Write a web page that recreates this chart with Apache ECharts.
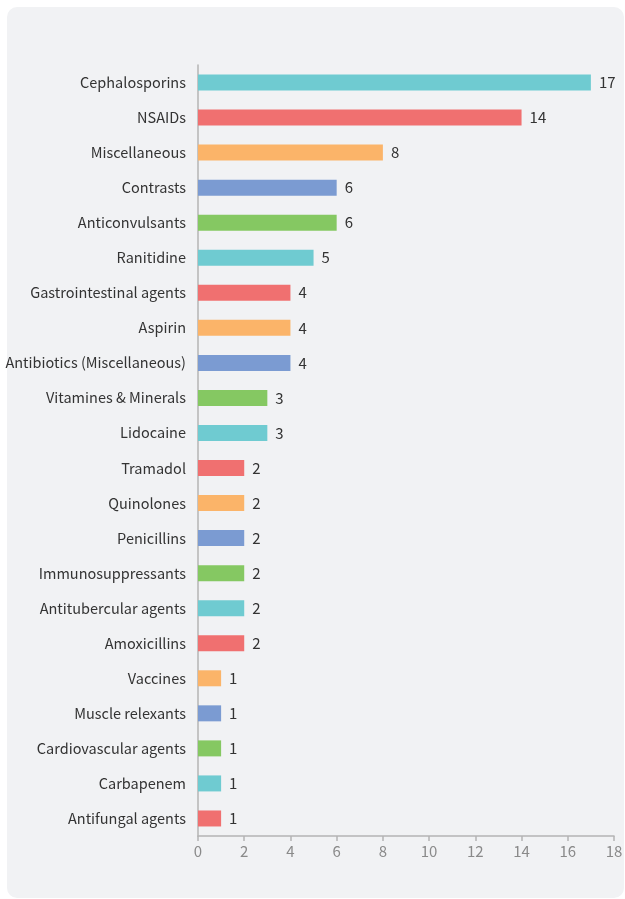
<!DOCTYPE html>
<html><head><meta charset="utf-8">
<script src="https://cdn.jsdelivr.net/npm/echarts@6/dist/echarts.min.js"></script>
<style>html,body{margin:0;padding:0;background:#fff}#c{width:625px;height:899px}</style>
</head><body><div id="c"></div>
<script>
const categories = ["Cephalosporins","NSAIDs","Miscellaneous","Contrasts","Anticonvulsants","Ranitidine","Gastrointestinal agents","Aspirin","Antibiotics (Miscellaneous)","Vitamines & Minerals","Lidocaine","Tramadol","Quinolones","Penicillins","Immunosuppressants","Antitubercular agents","Amoxicillins","Vaccines","Muscle relexants","Cardiovascular agents","Carbapenem","Antifungal agents"];
const values = [17,14,8,6,6,5,4,4,4,3,3,2,2,2,2,2,2,1,1,1,1,1];
const palette = ["#6fcbd1","#f07070","#fbb469","#7b9bd2","#85c862"];
const xTicks = [0,2,4,6,8,10,12,14,16,18];
const font = '"Noto Sans CJK KR", "Noto Sans", sans-serif';
const chart = echarts.init(document.getElementById('c'));
chart.setOption({
  animation:false,
  graphic:[{type:'rect',z:-10,silent:true,shape:{x:7,y:7,width:617,height:891,r:10},style:{fill:'#f1f2f4'}}],
  grid:{left:198,right:11,top:65,bottom:63,containLabel:false,outerBoundsMode:'none'},
  xAxis:{type:'value',min:0,max:18,interval:2,
    axisLine:{show:true,lineStyle:{color:'#b4b4b4',width:1.5}},
    axisTick:{show:true,length:5,lineStyle:{color:'#b4b4b4',width:1.5}},
    splitLine:{show:false},
    axisLabel:{color:'#8a8a8a',fontSize:15,fontFamily:font,margin:8,formatter:v=>xTicks.includes(v)?String(v):''}},
  yAxis:{type:'category',data:categories,inverse:true,
    axisLine:{show:true,lineStyle:{color:'#b4b4b4',width:1.5}},
    axisTick:{show:false},
    axisLabel:{color:'#333',fontSize:14.5,fontFamily:font,margin:12}},
  series:[{type:'bar',barWidth:16,
    data:values.map((v,i)=>({value:v,itemStyle:{color:palette[i%palette.length]}})),
    label:{show:true,position:'right',distance:8,color:'#333',fontSize:15,fontFamily:font}}]
});
</script></body></html>
